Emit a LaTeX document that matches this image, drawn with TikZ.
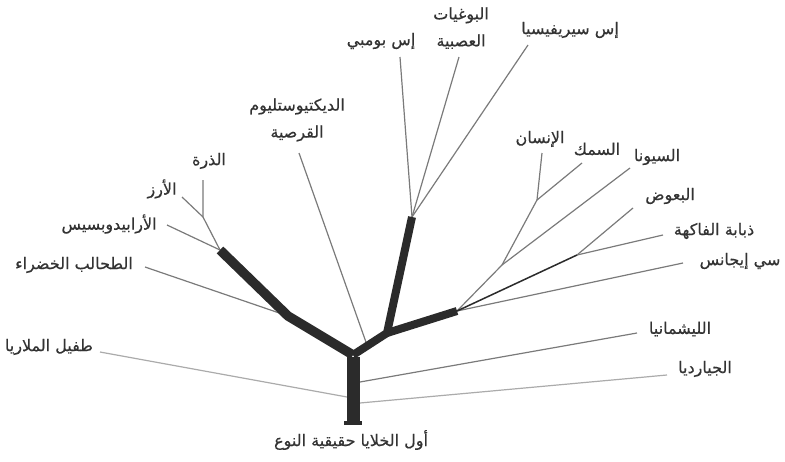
\documentclass[tikz,border=0pt]{standalone}
\usepackage{fontspec}
\TeXXeTstate=1
\newfontfamily\arabicfont[Script=Arabic, FakeBold=0.5]{DejaVu Sans}
\definecolor{trunkgray}{HTML}{2B2B2B}
\definecolor{twiggray}{HTML}{7A7A7A}
\definecolor{palegray}{HTML}{ABABAB}
\definecolor{textgray}{HTML}{333333}
\begin{document}
\begin{tikzpicture}[x=1pt,y=-1pt,
        lbl/.style={font=\arabicfont\fontsize{16}{27}\selectfont, text=textgray, inner sep=0pt, align=center},
        twig/.style={draw=twiggray, line width=1.2pt},
        pale/.style={draw=palegray, line width=1.2pt},
        dark/.style={draw=trunkgray, line width=1.5pt},
        limb/.style={draw=trunkgray, line width=9.5pt}]
        \useasboundingbox (0,0) rectangle (785,461);

        \node[lbl] (root) at (351,440) {\beginR أول الخلايا حقيقية النوع\endR};
        \node[lbl] (malaria) at (49,347) {\beginR طفيل الملاريا\endR};
        \node[lbl] (algae) at (74,265) {\beginR الطحالب الخضراء\endR};
        \node[lbl] (arab) at (109,224) {\beginR الأرابيدوبسيس\endR};
        \node[lbl] (rice) at (162,189) {\beginR الأرز\endR};
        \node[lbl] (corn) at (209,161) {\beginR الذرة\endR};
        \node[lbl] (dicty) at (297,120) {\beginR الديكتيوستليوم\endR\\\beginR القرصية\endR};
        \node[lbl] (pombe) at (381,41) {\beginR إس بومبي\endR};
        \node[lbl] (neuro) at (461,28) {\beginR البوغيات\endR\\\beginR العصبية\endR};
        \node[lbl] (cerev) at (570,30) {\beginR إس سيريفيسيا\endR};
        \node[lbl] (human) at (540,139) {\beginR الإنسان\endR};
        \node[lbl] (fish) at (597,149) {\beginR السمك\endR};
        \node[lbl] (squirt) at (657,157) {\beginR السيونا\endR};
        \node[lbl] (mosq) at (670,196) {\beginR البعوض\endR};
        \node[lbl] (fly) at (714,231) {\beginR ذبابة الفاكهة\endR};
        \node[lbl] (elegans) at (740,261) {\beginR سي إيجانس\endR};
        \node[lbl] (leish) at (680,329) {\beginR الليشمانيا\endR};
        \node[lbl] (giardia) at (705,369) {\beginR الجيارديا\endR};

        \coordinate (fork) at (353,355);
        \coordinate (bend) at (288,316);
        \coordinate (plantend) at (220,250);
        \coordinate (grass) at (203,217);
        \coordinate (corntip) at (203,180);
        \coordinate (ricetip) at (182,197);
        \coordinate (arabtip) at (167,225);
        \coordinate (algaetip) at (145,267);
        \coordinate (dictytip) at (299,153);
        \coordinate (dictyfoot) at (367,345);
        \coordinate (knee) at (387,333);
        \coordinate (fungi) at (412,217);
        \coordinate (pombetip) at (400,57);
        \coordinate (neurotip) at (459,57);
        \coordinate (cerevtip) at (528,45);
        \coordinate (animals) at (457,311);
        \coordinate (elegtip) at (683,263);
        \coordinate (insects) at (577,255);
        \coordinate (flytip) at (663,235);
        \coordinate (mosqtip) at (633,208);
        \coordinate (deut) at (502,265);
        \coordinate (squirttip) at (630,168);
        \coordinate (vert) at (537,200);
        \coordinate (humantip) at (542,153);
        \coordinate (fishtip) at (582,163);
        \coordinate (leishfoot) at (360,382);
        \coordinate (leishtip) at (637,333);
        \coordinate (giardfoot) at (360,403);
        \coordinate (giardtip) at (667,375);
        \coordinate (malfoot) at (347,397);
        \coordinate (maltip) at (100,352);
        \coordinate (trunktop) at (353,357);
        \coordinate (trunkfoot) at (353,423);

        \draw[twig] (plantend) -- (grass) -- (corntip);
        \draw[twig] (grass) -- (ricetip);
        \draw[twig] (plantend) -- (arabtip);
        \draw[twig] (bend) -- (algaetip);
        \draw[twig] (dictyfoot) -- (dictytip);
        \draw[twig] (fungi) -- (pombetip);
        \draw[twig] (fungi) -- (neurotip);
        \draw[twig] (fungi) -- (cerevtip);
        \draw[twig] (animals) -- (elegtip);
        \draw[twig] (insects) -- (flytip);
        \draw[twig] (insects) -- (mosqtip);
        \draw[twig] (animals) -- (deut) -- (vert) -- (humantip);
        \draw[twig] (vert) -- (fishtip);
        \draw[twig] (deut) -- (squirttip);
        \draw[dark] (animals) -- (insects);
        \draw[twig] (leishfoot) -- (leishtip);
        \draw[pale] (giardfoot) -- (giardtip);
        \draw[pale] (malfoot) -- (maltip);

        \draw[limb] (fork) -- (bend) -- (plantend);
        \draw[limb, line width=8pt] (fork) -- (knee) -- (fungi);
        \draw[limb, line width=8pt] (knee) -- (animals);
        \draw[limb, line width=13pt] (trunktop) -- (trunkfoot);
        \fill[trunkgray] (344,421) rectangle (362,425);
    \end{tikzpicture}
\end{document}
